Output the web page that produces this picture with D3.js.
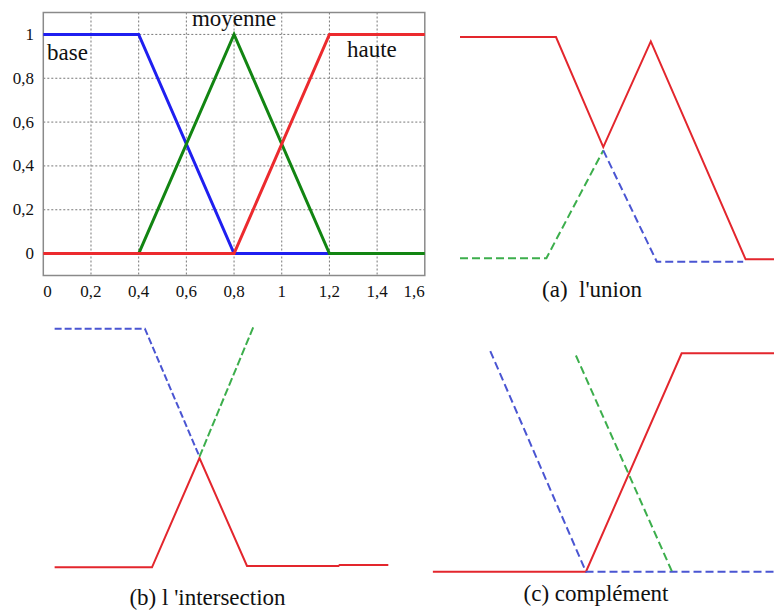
<!DOCTYPE html>
<html>
<head>
<meta charset="utf-8">
<script src="https://cdn.jsdelivr.net/npm/d3@7"></script>
<style>
  body { margin: 0; background: #fff; }
  text { font-family: "Liberation Serif", "Times New Roman", serif; fill: #111; white-space: pre; }
</style>
</head>
<body>
<div id="chart"></div>
<script>
// Membership functions (top-left panel)
const xTicks = [0, 0.2, 0.4, 0.6, 0.8, 1, 1.2, 1.4, 1.6];
const yTicks = [0, 0.2, 0.4, 0.6, 0.8, 1];
const baseMF = [[0, 1], [0.4, 1], [0.8, 0], [1.2, 0]];
const moyenneMF = [[0.4, 0], [0.8, 1], [1.2, 0], [1.6, 0]];
const hauteMF = [[0, 0], [0.8, 0], [1.2, 1], [1.6, 1]];

// (a) union
const unionMax = [[0, 1], [0.4, 1], [0.597, 0.505], [0.795, 0.98], [1.19, 0], [1.31, 0]];
const unionGreen = [[0, 0.005], [0.36, 0.005], [0.597, 0.49]];
const unionBlue = [[0.597, 0.49], [0.82, -0.011], [1.18, -0.011]];

// (b) intersection
const interBlue = [[-0.01, 1.07], [0.37, 1.07], [0.6, 0.496]];
const interGreen = [[0.6, 0.496], [0.83, 1.086]];
const interMin = [[-0.01, 0], [0.4, 0], [0.6, 0.49], [0.8, 0.006], [1.185, 0.006], [1.19, 0.01], [1.395, 0.01]];

// (c) complement
const compHaute = [[0.16, 0], [0.8, 0], [1.2, 1], [1.59, 1]];
const compBase = [[0.4, 1.01], [0.8, 0], [1.59, 0]];
const compMoyenne = [[0.758, 0.99], [1.16, 0]];

const svg = d3.select("#chart")
  .append("svg")
  .attr("width", 774)
  .attr("height", 612);

// ---------- main panel ----------
const x = d3.scaleLinear().domain([0, 1.6]).range([43.3, 424.8]);
const y = d3.scaleLinear().domain([-0.1, 1.1]).range([275.5, 12.5]);
const fmt = d => String(d).replace(".", ",");

const main = svg.append("g");

// grid
main.selectAll(".vgrid")
  .data(xTicks.slice(1, -1))
  .enter().append("line")
  .attr("x1", d => x(d)).attr("x2", d => x(d))
  .attr("y1", y(1.1)).attr("y2", y(-0.1))
  .attr("stroke", "#777").attr("stroke-width", 1)
  .attr("stroke-dasharray", "2,2");

main.selectAll(".hgrid")
  .data(yTicks)
  .enter().append("line")
  .attr("x1", x(0)).attr("x2", x(1.6))
  .attr("y1", d => y(d)).attr("y2", d => y(d))
  .attr("stroke", "#777").attr("stroke-width", 1)
  .attr("stroke-dasharray", "2,2");

// frame
main.append("rect")
  .attr("x", x(0)).attr("y", y(1.1))
  .attr("width", x(1.6) - x(0)).attr("height", y(-0.1) - y(1.1))
  .attr("fill", "none").attr("stroke", "#8a8a8a").attr("stroke-width", 1.5);

// tick labels
main.selectAll(".xlab")
  .data(xTicks)
  .enter().append("text")
  .attr("x", d => x(d))
  .attr("y", 297)
  .attr("font-size", 17)
  .attr("text-anchor", (d, i) => i === 0 ? "start" : (i === xTicks.length - 1 ? "end" : "middle"))
  .text(fmt);

main.selectAll(".ylab")
  .data(yTicks)
  .enter().append("text")
  .attr("x", 34)
  .attr("y", d => y(d) + 5.5)
  .attr("font-size", 17)
  .attr("text-anchor", "end")
  .text(fmt);

const line = d3.line().x(d => x(d[0])).y(d => y(d[1]));

main.append("path").attr("d", line(baseMF))
  .attr("fill", "none").attr("stroke", "#1f1ff0").attr("stroke-width", 3);
main.append("path").attr("d", line(moyenneMF))
  .attr("fill", "none").attr("stroke", "#128512").attr("stroke-width", 3);
main.append("path").attr("d", line(hauteMF))
  .attr("fill", "none").attr("stroke", "#ec2a2e").attr("stroke-width", 3);

main.append("text").attr("x", 47).attr("y", 60).attr("font-size", 23).text("base");
main.append("text").attr("x", x(0.8)).attr("y", 26).attr("font-size", 23)
  .attr("text-anchor", "middle").text("moyenne");
main.append("text").attr("x", 347).attr("y", 57).attr("font-size", 23).text("haute");

// ---------- small panels ----------
const RED = "#e3262d", BLUE = "#4a55d2", GREEN = "#3cae4c";

function panel(xr, yr, series, label, lx, ly) {
  const px = d3.scaleLinear().domain([0, 1]).range(xr);
  const py = d3.scaleLinear().domain([0, 1]).range(yr);
  const l = d3.line().x(d => px(d[0])).y(d => py(d[1]));
  const g = svg.append("g");
  series.forEach(s => {
    g.append("path").attr("d", l(s.data))
      .attr("fill", "none")
      .attr("stroke", s.color)
      .attr("stroke-width", 2)
      .attr("stroke-dasharray", s.dash || null);
  });
  g.append("text").attr("x", lx).attr("y", ly).attr("font-size", 23)
    .attr("text-anchor", "middle").text(label);
}

panel([460, 700], [259.3, 37], [
  { data: unionMax, color: RED },
  { data: unionGreen, color: GREEN, dash: "8,4" },
  { data: unionBlue, color: BLUE, dash: "8,4" }
], "(a)  l'union", 592, 297);

panel([57, 294.5], [567.3, 344.3], [
  { data: interMin, color: RED },
  { data: interBlue, color: BLUE, dash: "7,3" },
  { data: interGreen, color: GREEN, dash: "8,3" }
], "(b) l 'intersection", 207.5, 605);

panel([394.6, 633.8], [571.7, 353.3], [
  { data: compHaute, color: RED },
  { data: compBase, color: BLUE, dash: "8,4" },
  { data: compMoyenne, color: GREEN, dash: "8,4" }
], "(c) complément", 596, 601);
</script>
</body>
</html>
